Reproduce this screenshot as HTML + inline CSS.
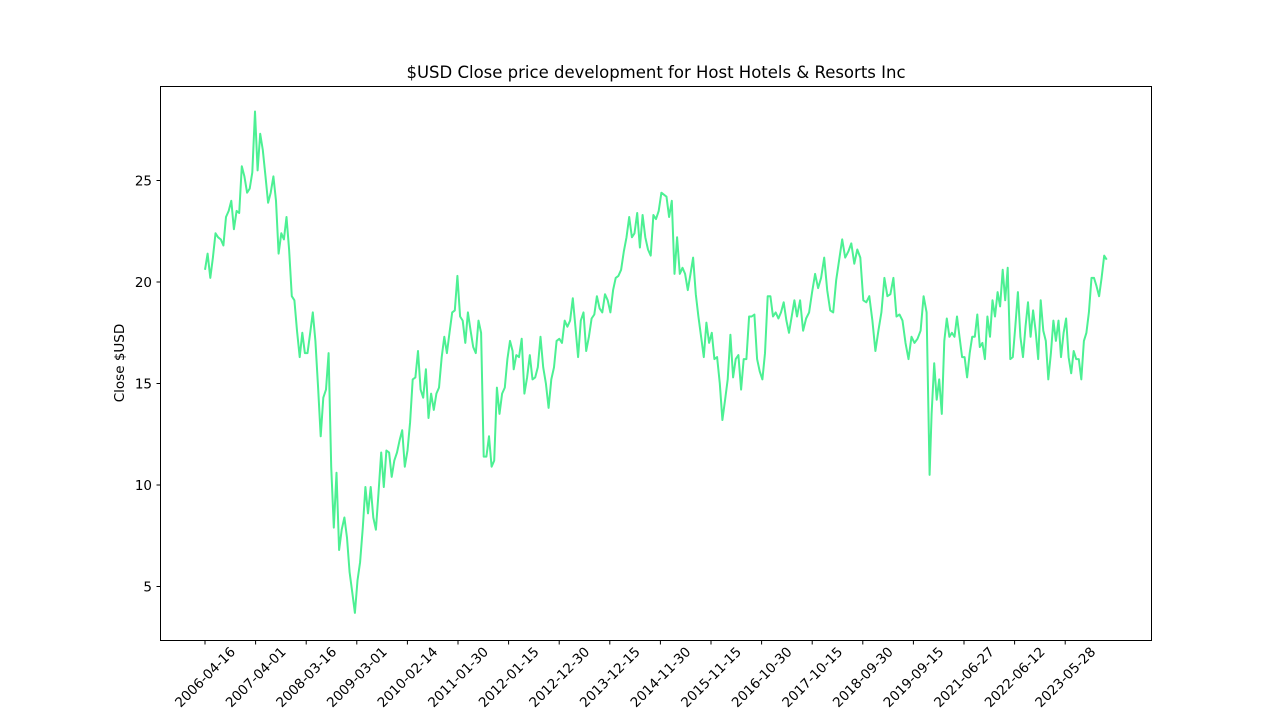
<!DOCTYPE html>
<html><head><meta charset="utf-8"><style>
body{margin:0;background:#fff;}
svg text{font-family:"DejaVu Sans","Liberation Sans",sans-serif;fill:#000;}
</style></head><body>
<svg width="1280" height="720" viewBox="0 0 1280 720" xmlns="http://www.w3.org/2000/svg">
<rect x="0" y="0" width="1280" height="720" fill="#fff"/>
<text x="656" y="78" font-size="16.5" text-anchor="middle">$USD Close price development for Host Hotels &amp; Resorts Inc</text>
<text transform="translate(124,363) rotate(-90)" font-size="13.5" text-anchor="middle">Close $USD</text>
<g id="yt"></g>
<g id="xt"></g>
<path id="line" fill="none" stroke="#4cf093" stroke-width="2" stroke-linejoin="round"/>
<rect x="160.5" y="86.5" width="991" height="554" fill="none" stroke="#000" stroke-width="1"/>
</svg>
<script>
const xTickLabels=["2006-04-16","2007-04-01","2008-03-16","2009-03-01","2010-02-14","2011-01-30","2012-01-15","2012-12-30","2013-12-15","2014-11-30","2015-11-15","2016-10-30","2017-10-15","2018-09-30","2019-09-15","2021-06-27","2022-06-12","2023-05-28"];
const yTicks=[5,10,15,20,25];
const seg1=[20.6,21.4,20.2,21.2,22.4,22.2,22.1,21.8,23.2,23.5,24.0,22.6,23.5,23.4,25.7,25.2,24.4,24.6,25.4,28.4,25.5,27.3,26.5,25.2,23.9,24.4,25.2,24.0,21.4,22.4,22.1,23.2,21.6,19.3,19.1,17.6,16.3,17.5,16.5,16.5,17.5,18.5,17.1,14.8,12.4,14.3,14.7,16.5,10.9,7.9,10.6,6.8,7.8,8.4,7.4,5.7,4.7,3.7,5.3,6.2,7.9,9.9,8.6,9.9,8.4,7.8,9.6,11.6,9.9,11.7,11.6,10.4,11.2,11.6,12.2,12.7,10.9,11.7,13.1,15.2,15.3,16.6,14.7,14.3,15.7,13.3,14.5,13.7,14.5,14.8,16.3,17.3,16.5,17.5,18.5,18.6,20.3,18.3,18.1,17.0,18.5,17.6,16.8,16.5,18.1,17.5,11.4,11.4,12.4,10.9,11.2,14.8,13.5,14.5,14.8,16.2,17.1,16.6];
const seg2a=[15.7,16.4,16.3,17.2,14.5,15.3,16.4,15.2,15.3,15.8,17.3,15.8,15.0,13.8,15.2,15.8,17.1,17.2,17.0,18.1,17.8,18.1,19.2,17.8,16.3,18.1,18.5,16.6,17.3,18.2,18.4,19.3,18.7,18.5,19.4,19.1,18.5,19.6,20.2,20.3,20.6,21.5,22.2,23.2,22.2,22.4,23.4,21.7,23.3,22.2,21.6,21.3,23.3,23.1,23.5,24.4];
const seg2b=[24.2,23.2,24.0,20.4,22.2,20.4,20.7,20.4,19.6,20.4,21.2,19.4,18.3,17.3,16.3,18.0,17.0,17.5,16.2,16.3,15.0,13.2,14.2,15.2,17.4,15.3,16.2,16.4,14.7,16.2,16.2,18.3,18.3,18.4,16.2,15.6,15.2,16.5,19.3,19.3,18.3,18.5,18.2,18.5,19.0,18.1,17.5,18.3,19.1,18.3];
const seg3a=[19.1,17.6,18.2,18.5,19.5,20.4,19.7,20.2,21.2,19.6,18.6,18.5,20.1,21.1,22.1,21.2,21.5,21.9,20.9,21.6,21.2,19.1,19.0,19.3,18.1,16.6,17.6,18.5,20.2,19.3,19.4,20.2,18.3,18.4,18.1,17.0,16.2,17.3,17.0,17.2,17.6,19.3,18.5,10.5];
const seg3b=[13.5,16.0,14.2,15.2,13.5,17.1,18.2,17.3,17.5,17.3,18.3,17.3,16.3,16.3,15.3,16.5,17.3,17.3,18.4,16.8,17.0,16.2,18.3,17.3,19.1,18.3,19.5,18.8,20.6,19.1,20.7,16.2,16.3,17.8,19.5,17.3,16.3,17.8,19.0,17.3,18.6,17.6,16.2,19.1,17.6,17.1,15.2,16.5,18.1,17.1,18.1,16.3,17.5,18.2,16.3,15.5,16.6,16.2,16.2,15.2,17.1,17.5,18.5,20.2,20.2,19.8,19.3,20.2,21.3,21.1];
// week offsets (weeks since 2006-04-16) covered by each segment
const segStartWeek=[0,305,456,588,718];
const segEndWeek=[304,451,585,716,891];
const segments=[seg1,seg2a,seg2b,seg3a,seg3b];
const NS="http://www.w3.org/2000/svg";
function yScale(v){return 688-v*20.3;}
function xScale(week){return 205+week*1.012;}
function xTick(i){return xScale(i*50);}
const yt=document.getElementById('yt');
yTicks.forEach(t=>{
  const y=yScale(t);
  const l=document.createElementNS(NS,'line');
  l.setAttribute('x1',156.5);l.setAttribute('x2',160.5);l.setAttribute('y1',y);l.setAttribute('y2',y);l.setAttribute('stroke','#000');
  
  
  yt.appendChild(l);
  const tx=document.createElementNS(NS,'text');
  tx.setAttribute('x',152);tx.setAttribute('y',y+5);tx.setAttribute('font-size','13.5');tx.setAttribute('text-anchor','end');
  tx.textContent=t;
  
  
  yt.appendChild(tx);
});
const xt=document.getElementById('xt');
xTickLabels.forEach((lab,i)=>{
  const x=xTick(i);
  const l=document.createElementNS(NS,'line');
  l.setAttribute('x1',x);l.setAttribute('x2',x);l.setAttribute('y1',640.5);l.setAttribute('y2',644.5);l.setAttribute('stroke','#000');
  
  
  xt.appendChild(l);
  const tx=document.createElementNS(NS,'text');
  tx.setAttribute('transform','translate('+x+',677) rotate(-45)');
  tx.setAttribute('font-size','13.5');tx.setAttribute('text-anchor','middle');
  tx.setAttribute('dy','0.35em');
  tx.textContent=lab;
  
  
  xt.appendChild(tx);
});
let d='';
segments.forEach((seg,s)=>{
  const w0=segStartWeek[s],w1=segEndWeek[s];
  seg.forEach((v,i)=>{
    const w=w0+(seg.length>1?i*(w1-w0)/(seg.length-1):0);
    d+=(d?'L':'M')+xScale(w).toFixed(1)+','+yScale(v).toFixed(1);
  });
});
document.getElementById('line').setAttribute('d',d);
</script>
</body></html>
